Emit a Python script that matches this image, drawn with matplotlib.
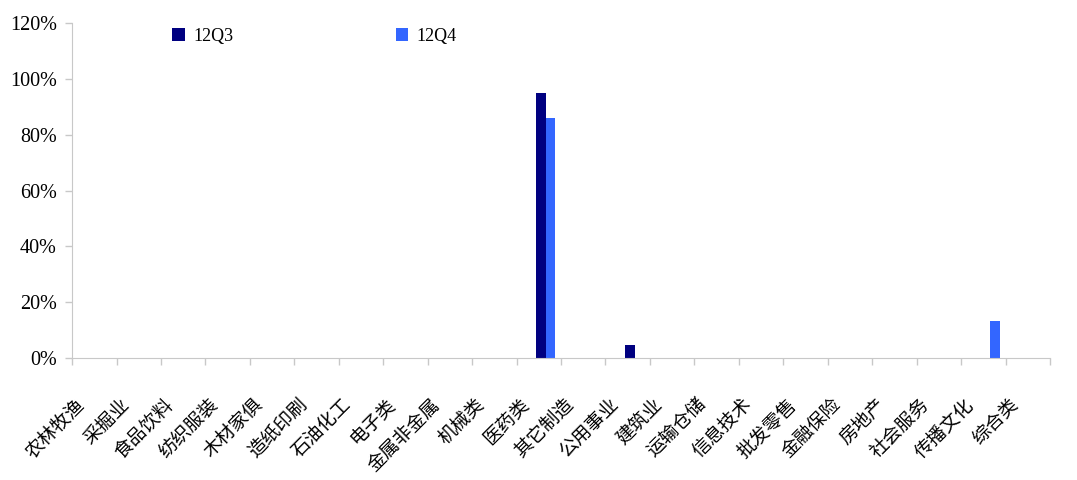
import numpy as np
import matplotlib
matplotlib.use("Agg")
from matplotlib import pyplot as plt
from matplotlib.ticker import FuncFormatter, FixedLocator, NullFormatter
from matplotlib.transforms import ScaledTranslation

# data
categories = ["农林牧渔", "采掘业", "食品饮料", "纺织服装", "木材家俱", "造纸印刷",
              "石油化工", "电子类", "金属非金属", "机械类", "医药类", "其它制造",
              "公用事业", "建筑业", "运输仓储", "信息技术", "批发零售", "金融保险",
              "房地产", "社会服务", "传播文化", "综合类"]
q3_values = [0, 0, 0, 0, 0, 0, 0, 0, 0, 0, 95.0, 0, 4.7, 0, 0, 0, 0, 0, 0, 0, 0, 0]
q4_values = [0, 0, 0, 0, 0, 0, 0, 0, 0, 0, 86.0, 0, 0, 0, 0, 0, 0, 0, 0, 0, 13.3, 0]
series_names = ["12Q3", "12Q4"]

color_q3 = "#000080"
color_q4 = "#3366ff"
cjk = ["Noto Sans CJK SC", "DejaVu Sans"]

fig = plt.figure(figsize=(10.77, 4.8), dpi=100)
ax = fig.add_axes([0.0669, 0.254, 0.908, 0.698])

x = np.arange(len(categories))
w = 0.21
ax.bar(x + 0.05, q3_values, width=w, color=color_q3, label=series_names[0])
ax.bar(x + 0.05 + w, q4_values, width=w, color=color_q4, label=series_names[1])

ax.set_xlim(-0.5, len(categories) - 0.5)
ax.set_ylim(0, 120)
ax.set_yticks(np.arange(0, 121, 20))
ax.yaxis.set_major_formatter(FuncFormatter(lambda v, _: f"{v:.0f}%"))

# ticks sit between categories, labels at the centres
ax.xaxis.set_major_locator(FixedLocator(np.arange(-0.5, len(categories), 1.0)))
ax.xaxis.set_major_formatter(NullFormatter())
ax.set_xticks(x, minor=True)
ax.set_xticklabels(categories, minor=True, rotation=45, ha="right",
                   rotation_mode="anchor", family=cjk, fontsize=13.5)
ax.tick_params(axis="x", which="minor", length=0, pad=26)
ax.tick_params(axis="x", which="major", length=5, color="#c8c8c8", width=1)
ax.tick_params(axis="y", length=5, color="#c8c8c8", width=1, pad=6)
shift = ScaledTranslation(-20 / 100, 0, fig.dpi_scale_trans)
for lbl in ax.get_xticklabels(minor=True):
    lbl.set_transform(lbl.get_transform() + shift)
for lbl in ax.get_yticklabels():
    lbl.set_family("Liberation Serif")
    lbl.set_fontsize(14.5)

for s in ["top", "right"]:
    ax.spines[s].set_visible(False)
ax.spines["left"].set_color("#c8c8c8")
ax.spines["bottom"].set_color("#c8c8c8")

leg = ax.legend(loc="upper left", bbox_to_anchor=(0.086, 1.035), ncol=2,
                frameon=False, handlelength=0.7, handleheight=0.7,
                handletextpad=0.45, columnspacing=9.0,
                prop={"family": "Liberation Serif", "size": 13})

fig.savefig("out.png", dpi=100)
